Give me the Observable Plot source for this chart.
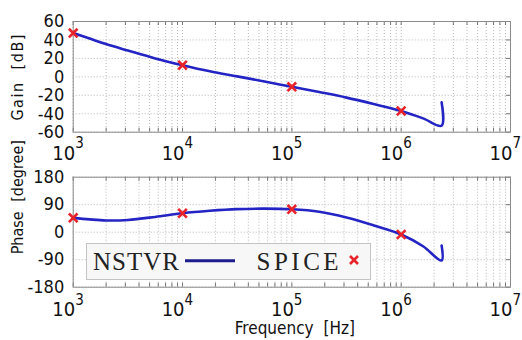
<!DOCTYPE html>
<html><head><meta charset="utf-8">
<script src="https://cdn.jsdelivr.net/npm/d3@7"></script>
<script src="https://cdn.jsdelivr.net/npm/@observablehq/plot@0.6"></script>
<style>
html,body{margin:0;padding:0;background:#fff;}
#chart{position:relative;width:522px;height:340px;overflow:hidden;background:#fff;}
#chart > svg{display:block;}
#legend{position:absolute;left:86px;top:243px;}
</style></head><body><div id="chart"></div>
<script>
// ---- data ----
const freqHz   = [1000, 1413, 1995, 3162, 5623, 10000, 17783, 31623, 56234, 100000, 177828, 316228, 562341, 1000000, 1584893, 2344229, 2344229];
const gainDb   = [47.5, 41.5, 35.5, 28.5, 20, 12.6, 6, 0.5, -5, -10.8, -16.5, -22.5, -29.5, -37, -45, -53, -27.7];
const phaseDeg = [47, 42, 38.5, 40, 50, 62, 70, 75.5, 77, 75, 67, 48, 22, -7.5, -46, -92.6, -43.5];
const spiceHz    = [1e3, 1e4, 1e5, 1e6];
const spiceGain  = [47.5, 12.6, -10.8, -37];
const spicePhase = [47, 62, 75, -7.5];
const decadeTicks = [1e3, 1e4, 1e5, 1e6, 1e7];
const decadeExp   = ["3", "4", "5", "6", "7"];
const gainTicks  = [-60, -40, -20, 0, 20, 40, 60];
const phaseTicks = [-180, -90, 0, 90, 180];
const gainTitle = "Gain [dB]";
const phaseTitle = "Phase [degree]";
const freqTitle = "Frequency [Hz]";
const legendNames = ["NSTVR", "SPICE"];

const minorTicks = d3.range(3, 7).flatMap(k => d3.range(1, 10).map(m => m * 10 ** k)).concat([1e7]);

const FONT = '"Liberation Sans Narrow","DejaVu Sans Condensed","Liberation Sans",sans-serif';
const LINE_COLOR = "#2424c4";
const MARK_COLOR = "#e8222a";
const W = 522, ML = 72.7, MR = 12;

function panel({yDomain, yTicks, values, spice, title, titleDy, titleClass, height, marginTop, marginBottom, labelDy, expDy, xTitle}) {
  const innerH = height - marginTop - marginBottom;
  const innerW = W - ML - MR;
  const line = freqHz.map((f, i) => ({f, v: values[i]}));
  const pts = spiceHz.map((f, i) => ({f, v: spice[i]}));
  const marks = [
    Plot.ruleX(minorTicks, {x: d => d, stroke: "#b8b8b8", strokeDasharray: "1,2"}),
    Plot.ruleY(yTicks, {y: d => d, stroke: "#b8b8b8", strokeDasharray: "1,2"}),
    Plot.ruleX(minorTicks, {x: d => d, stroke: "#777", insetBottom: innerH - 4}),
    Plot.ruleX(minorTicks, {x: d => d, stroke: "#777", insetTop: innerH - 4}),
    Plot.ruleY(yTicks, {y: d => d, stroke: "#777", insetLeft: innerW - 4}),
    Plot.frame({stroke: "#8a8a8a"}),
    Plot.line(line, {x: "f", y: "v", stroke: LINE_COLOR, strokeWidth: 2.6, curve: "catmull-rom"}),
    Plot.dot(pts, {x: "f", y: "v", symbol: "times", r: 4, stroke: MARK_COLOR, strokeWidth: 2.6}),
    Plot.axisY(yTicks, {tickSize: 0, tickPadding: 9, tickFormat: d => String(d), fontSize: 18, label: null}),
    Plot.text(decadeTicks, {x: d => d, text: () => "10", frameAnchor: "bottom", textAnchor: "end", lineAnchor: "bottom", dx: 2, dy: labelDy, fontSize: 20}),
    Plot.text(decadeTicks, {x: d => d, text: (d, i) => decadeExp[i], frameAnchor: "bottom", textAnchor: "start", lineAnchor: "bottom", dx: 2, dy: expDy, fontSize: 15}),
    Plot.text([title], {frameAnchor: "left", textAnchor: "middle", rotate: -90, dx: -55, dy: titleDy, fontSize: 16, className: titleClass})
  ];
  if (xTitle) marks.push(Plot.text([xTitle], {frameAnchor: "bottom", textAnchor: "middle", lineAnchor: "bottom", dx: 3, dy: 47, fontSize: 17, className: "xtitle"}));
  return Plot.plot({
    width: W, height, marginLeft: ML, marginRight: MR, marginTop, marginBottom,
    style: {fontFamily: FONT, fontSize: "18px", background: "transparent", color: "#111", overflow: "visible"},
    x: {type: "log", domain: [1e3, 1e7], axis: null},
    y: {domain: yDomain, axis: null},
    marks
  });
}

const chart = document.getElementById("chart");
chart.append(panel({yDomain: [-60, 60], yTicks: gainTicks, values: gainDb, spice: spiceGain, title: gainTitle, titleDy: 0, titleClass: "gtitle",
  height: 165, marginTop: 21, marginBottom: 33.3, labelDy: 27.5, expDy: 15.5}));
chart.append(panel({yDomain: [-180, 180], yTicks: phaseTicks, values: phaseDeg, spice: spicePhase, title: phaseTitle, titleDy: -35, titleClass: "ptitle",
  height: 175, marginTop: 11.7, marginBottom: 53.3, labelDy: 29, expDy: 18, xTitle: freqTitle}));

// title spacing like the reference's wide gothic spacing
chart.querySelectorAll(".gtitle text").forEach(t => { t.style.letterSpacing = "1.5px"; t.style.wordSpacing = "6px"; });
chart.querySelectorAll(".ptitle text, .xtitle text").forEach(t => { t.style.wordSpacing = "5px"; });

// legend box (inside the phase panel)
const NS = "http://www.w3.org/2000/svg";
const lg = document.createElementNS(NS, "svg");
lg.setAttribute("id", "legend");
lg.setAttribute("width", 285);
lg.setAttribute("height", 37);
lg.innerHTML = `
  <rect x="0.5" y="0.5" width="284" height="36" fill="#f7f7f7" stroke="#c4c4c4"/>
  <text x="7" y="26.7" font-family="Liberation Serif, DejaVu Serif, serif" font-size="25" letter-spacing="1" fill="#222">${legendNames[0]}</text>
  <line x1="99" x2="149" y1="17.7" y2="17.7" stroke="#1c1c8c" stroke-width="3"/>
  <text x="170.5" y="26.7" font-family="Liberation Serif, DejaVu Serif, serif" font-size="25" letter-spacing="3.5" fill="#222">${legendNames[1]}</text>
  <path d="M264,13 L272,21 M272,13 L264,21" stroke="${MARK_COLOR}" stroke-width="2.6"/>`;
chart.append(lg);
</script></body></html>
